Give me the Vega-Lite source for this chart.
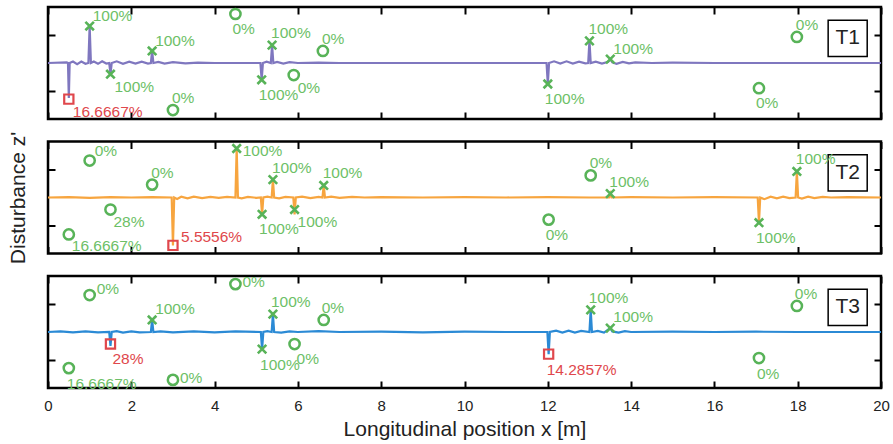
{
  "$schema": "https://vega.github.io/schema/vega-lite/v6.json",
  "padding": {"left": 5, "top": 2, "right": 10, "bottom": 5},
  "background": "white",
  "bounds": "flush",
  "spacing": 22.5,
  "config": {
    "view": {"stroke": "black", "strokeWidth": 2.5},
    "axis": {"domain": false, "grid": false, "tickColor": "black", "tickWidth": 2, "tickSize": -7, "labelFontSize": 15, "labelFont": "Liberation Sans", "labelColor": "#222", "labelFlush": false, "titleFont": "Liberation Sans", "titleFontSize": 21, "titleFontWeight": "normal", "titleColor": "#222"}
  },
  "datasets": {
    "lines": [
      {"p":1,"x":0,"y":0},{"p":1,"x":0.45,"y":0.02},{"p":1,"x":0.48,"y":0},{"p":1,"x":0.5,"y":-1.25},{"p":1,"x":0.52,"y":0},{"p":1,"x":0.6,"y":0.05},{"p":1,"x":0.7,"y":-0.04},{"p":1,"x":0.8,"y":0.05},{"p":1,"x":0.9,"y":-0.03},{"p":1,"x":0.97,"y":0},{"p":1,"x":1.0,"y":1.32},{"p":1,"x":1.03,"y":0},{"p":1,"x":1.1,"y":0.05},{"p":1,"x":1.2,"y":-0.03},{"p":1,"x":1.3,"y":0.06},{"p":1,"x":1.4,"y":-0.02},{"p":1,"x":1.47,"y":0},{"p":1,"x":1.5,"y":-0.4},{"p":1,"x":1.53,"y":0},{"p":1,"x":1.65,"y":0.06},{"p":1,"x":1.8,"y":-0.03},{"p":1,"x":1.95,"y":0.05},{"p":1,"x":2.1,"y":-0.02},{"p":1,"x":2.25,"y":0.05},{"p":1,"x":2.4,"y":-0.02},{"p":1,"x":2.47,"y":0},{"p":1,"x":2.5,"y":0.43},{"p":1,"x":2.53,"y":0},{"p":1,"x":2.65,"y":0.04},{"p":1,"x":2.8,"y":-0.02},{"p":1,"x":3.0,"y":0.03},{"p":1,"x":3.3,"y":-0.01},{"p":1,"x":3.6,"y":0.01},{"p":1,"x":4.0,"y":0},{"p":1,"x":5.1,"y":0},{"p":1,"x":5.13,"y":-0.6},{"p":1,"x":5.16,"y":0},{"p":1,"x":5.25,"y":0.05},{"p":1,"x":5.35,"y":0},{"p":1,"x":5.38,"y":0.64},{"p":1,"x":5.41,"y":0},{"p":1,"x":5.5,"y":0.04},{"p":1,"x":5.65,"y":-0.02},{"p":1,"x":5.8,"y":0.03},{"p":1,"x":6.0,"y":0},{"p":1,"x":6.5,"y":0.01},{"p":1,"x":7.0,"y":0},{"p":1,"x":11.97,"y":0},{"p":1,"x":12.0,"y":-0.75},{"p":1,"x":12.03,"y":0},{"p":1,"x":12.15,"y":0.06},{"p":1,"x":12.3,"y":-0.02},{"p":1,"x":12.45,"y":0.06},{"p":1,"x":12.6,"y":-0.02},{"p":1,"x":12.75,"y":0.05},{"p":1,"x":12.9,"y":-0.01},{"p":1,"x":12.97,"y":0},{"p":1,"x":13.0,"y":0.79},{"p":1,"x":13.03,"y":0},{"p":1,"x":13.15,"y":0.05},{"p":1,"x":13.3,"y":-0.02},{"p":1,"x":13.45,"y":0.04},{"p":1,"x":13.5,"y":0.14},{"p":1,"x":13.55,"y":0.02},{"p":1,"x":13.65,"y":-0.03},{"p":1,"x":13.8,"y":0.04},{"p":1,"x":13.95,"y":-0.01},{"p":1,"x":14.1,"y":0.02},{"p":1,"x":14.5,"y":0},{"p":1,"x":15.0,"y":0.01},{"p":1,"x":16.0,"y":0},{"p":1,"x":20.0,"y":0},
      {"p":2,"x":0,"y":0},{"p":2,"x":0.5,"y":0.01},{"p":2,"x":1.0,"y":-0.01},{"p":2,"x":1.5,"y":0.01},{"p":2,"x":2.0,"y":0},{"p":2,"x":2.5,"y":0.01},{"p":2,"x":2.97,"y":0},{"p":2,"x":3.0,"y":-1.71},{"p":2,"x":3.03,"y":0},{"p":2,"x":3.1,"y":-0.05},{"p":2,"x":3.2,"y":0.03},{"p":2,"x":3.35,"y":-0.03},{"p":2,"x":3.5,"y":0.03},{"p":2,"x":3.7,"y":-0.02},{"p":2,"x":3.9,"y":0.02},{"p":2,"x":4.1,"y":-0.01},{"p":2,"x":4.3,"y":0.02},{"p":2,"x":4.5,"y":0},{"p":2,"x":4.53,"y":1.75},{"p":2,"x":4.56,"y":0},{"p":2,"x":4.65,"y":-0.03},{"p":2,"x":4.8,"y":0.02},{"p":2,"x":5.0,"y":-0.01},{"p":2,"x":5.11,"y":0},{"p":2,"x":5.14,"y":-0.6},{"p":2,"x":5.17,"y":0},{"p":2,"x":5.27,"y":0.03},{"p":2,"x":5.37,"y":0},{"p":2,"x":5.4,"y":0.64},{"p":2,"x":5.43,"y":0},{"p":2,"x":5.55,"y":-0.03},{"p":2,"x":5.7,"y":0.02},{"p":2,"x":5.89,"y":0},{"p":2,"x":5.92,"y":-0.6},{"p":2,"x":5.95,"y":0},{"p":2,"x":6.1,"y":0.03},{"p":2,"x":6.3,"y":-0.02},{"p":2,"x":6.5,"y":0.02},{"p":2,"x":6.59,"y":0},{"p":2,"x":6.62,"y":0.43},{"p":2,"x":6.65,"y":0},{"p":2,"x":6.8,"y":0.03},{"p":2,"x":7.0,"y":-0.01},{"p":2,"x":7.3,"y":0.02},{"p":2,"x":7.6,"y":0},{"p":2,"x":8,"y":0.01},{"p":2,"x":9,"y":0},{"p":2,"x":10,"y":0.01},{"p":2,"x":11,"y":0},{"p":2,"x":12,"y":0.01},{"p":2,"x":13,"y":0},{"p":2,"x":13.47,"y":0},{"p":2,"x":13.5,"y":0.14},{"p":2,"x":13.53,"y":0},{"p":2,"x":14,"y":0.01},{"p":2,"x":15,"y":0},{"p":2,"x":16,"y":0.01},{"p":2,"x":17.04,"y":0},{"p":2,"x":17.07,"y":-0.9},{"p":2,"x":17.1,"y":0},{"p":2,"x":17.2,"y":-0.06},{"p":2,"x":17.35,"y":0.03},{"p":2,"x":17.5,"y":-0.03},{"p":2,"x":17.65,"y":0.03},{"p":2,"x":17.8,"y":-0.02},{"p":2,"x":17.95,"y":0},{"p":2,"x":17.98,"y":0.93},{"p":2,"x":18.01,"y":0},{"p":2,"x":18.1,"y":-0.04},{"p":2,"x":18.25,"y":0.03},{"p":2,"x":18.4,"y":-0.02},{"p":2,"x":18.6,"y":0.02},{"p":2,"x":18.8,"y":0},{"p":2,"x":19.2,"y":0.01},{"p":2,"x":20,"y":0},
      {"p":3,"x":0,"y":0},{"p":3,"x":0.3,"y":0.02},{"p":3,"x":0.6,"y":-0.01},{"p":3,"x":0.9,"y":0.02},{"p":3,"x":1.2,"y":-0.01},{"p":3,"x":1.47,"y":0},{"p":3,"x":1.5,"y":-0.5},{"p":3,"x":1.53,"y":0},{"p":3,"x":1.65,"y":0.03},{"p":3,"x":1.8,"y":-0.02},{"p":3,"x":2.0,"y":0.02},{"p":3,"x":2.2,"y":-0.01},{"p":3,"x":2.47,"y":0},{"p":3,"x":2.5,"y":0.43},{"p":3,"x":2.53,"y":0},{"p":3,"x":2.7,"y":0.02},{"p":3,"x":3.0,"y":-0.01},{"p":3,"x":3.5,"y":0.02},{"p":3,"x":4.0,"y":-0.01},{"p":3,"x":4.5,"y":0.02},{"p":3,"x":5.11,"y":0},{"p":3,"x":5.14,"y":-0.61},{"p":3,"x":5.17,"y":0},{"p":3,"x":5.27,"y":0.03},{"p":3,"x":5.37,"y":0},{"p":3,"x":5.4,"y":0.64},{"p":3,"x":5.43,"y":0},{"p":3,"x":5.6,"y":-0.02},{"p":3,"x":5.8,"y":0.02},{"p":3,"x":6.0,"y":0},{"p":3,"x":6.5,"y":0.03},{"p":3,"x":7,"y":0},{"p":3,"x":8,"y":0.01},{"p":3,"x":9,"y":-0.01},{"p":3,"x":10,"y":0.01},{"p":3,"x":11,"y":0},{"p":3,"x":11.99,"y":0},{"p":3,"x":12.02,"y":-0.79},{"p":3,"x":12.05,"y":0},{"p":3,"x":12.2,"y":0.05},{"p":3,"x":12.35,"y":-0.02},{"p":3,"x":12.5,"y":0.05},{"p":3,"x":12.65,"y":-0.02},{"p":3,"x":12.8,"y":0.04},{"p":3,"x":13.0,"y":0},{"p":3,"x":13.03,"y":0.79},{"p":3,"x":13.06,"y":0},{"p":3,"x":13.2,"y":0.04},{"p":3,"x":13.35,"y":-0.02},{"p":3,"x":13.5,"y":0.14},{"p":3,"x":13.55,"y":0.02},{"p":3,"x":13.7,"y":-0.02},{"p":3,"x":13.85,"y":0.03},{"p":3,"x":14.0,"y":0},{"p":3,"x":15,"y":0.01},{"p":3,"x":16,"y":0},{"p":3,"x":17,"y":0.01},{"p":3,"x":18,"y":0},{"p":3,"x":20,"y":0}
    ],
    "marks": [
      {"p":1,"x":0.5,"y":-1.29,"k":"s","t":"16.6667%","pos":"br"},
      {"p":1,"x":1.0,"y":1.32,"k":"x","t":"100%","pos":"ar"},
      {"p":1,"x":1.5,"y":-0.4,"k":"x","t":"100%","pos":"br"},
      {"p":1,"x":2.5,"y":0.43,"k":"x","t":"100%","pos":"ar"},
      {"p":1,"x":4.5,"y":1.75,"k":"o","t":"0%","pos":"b"},
      {"p":1,"x":3.0,"y":-1.68,"k":"o","t":"0%","pos":"a"},
      {"p":1,"x":5.13,"y":-0.6,"k":"x","t":"100%","pos":"b"},
      {"p":1,"x":5.38,"y":0.64,"k":"x","t":"100%","pos":"a"},
      {"p":1,"x":5.9,"y":-0.43,"k":"o","t":"0%","pos":"br"},
      {"p":1,"x":6.6,"y":0.43,"k":"o","t":"0%","pos":"a"},
      {"p":1,"x":12.0,"y":-0.75,"k":"x","t":"100%","pos":"b"},
      {"p":1,"x":13.0,"y":0.79,"k":"x","t":"100%","pos":"a"},
      {"p":1,"x":13.5,"y":0.14,"k":"x","t":"100%","pos":"ar"},
      {"p":1,"x":17.98,"y":0.93,"k":"o","t":"0%","pos":"a"},
      {"p":1,"x":17.07,"y":-0.9,"k":"o","t":"0%","pos":"b"},
      {"p":2,"x":1.0,"y":1.32,"k":"o","t":"0%","pos":"ar"},
      {"p":2,"x":2.5,"y":0.46,"k":"o","t":"0%","pos":"a"},
      {"p":2,"x":1.5,"y":-0.43,"k":"o","t":"28%","pos":"br"},
      {"p":2,"x":0.5,"y":-1.32,"k":"o","t":"16.6667%","pos":"br"},
      {"p":2,"x":3.0,"y":-1.71,"k":"s","t":"5.5556%","pos":"ru"},
      {"p":2,"x":4.53,"y":1.75,"k":"x","t":"100%","pos":"r"},
      {"p":2,"x":5.14,"y":-0.6,"k":"x","t":"100%","pos":"b"},
      {"p":2,"x":5.4,"y":0.64,"k":"x","t":"100%","pos":"a"},
      {"p":2,"x":5.92,"y":-0.43,"k":"x","t":"100%","pos":"br"},
      {"p":2,"x":6.62,"y":0.43,"k":"x","t":"100%","pos":"a"},
      {"p":2,"x":13.03,"y":0.79,"k":"o","t":"0%","pos":"a"},
      {"p":2,"x":13.5,"y":0.14,"k":"x","t":"100%","pos":"a"},
      {"p":2,"x":12.02,"y":-0.79,"k":"o","t":"0%","pos":"b"},
      {"p":2,"x":17.07,"y":-0.9,"k":"x","t":"100%","pos":"b"},
      {"p":2,"x":17.98,"y":0.93,"k":"x","t":"100%","pos":"a"},
      {"p":3,"x":1.0,"y":1.32,"k":"o","t":"0%","pos":"ru"},
      {"p":3,"x":4.5,"y":1.71,"k":"o","t":"0%","pos":"r"},
      {"p":3,"x":2.5,"y":0.43,"k":"x","t":"100%","pos":"ar"},
      {"p":3,"x":1.5,"y":-0.43,"k":"s","t":"28%","pos":"br"},
      {"p":3,"x":0.5,"y":-1.29,"k":"o","t":"16.6667%","pos":"b"},
      {"p":3,"x":3.0,"y":-1.71,"k":"o","t":"0%","pos":"r"},
      {"p":3,"x":5.14,"y":-0.61,"k":"x","t":"100%","pos":"b"},
      {"p":3,"x":5.4,"y":0.64,"k":"x","t":"100%","pos":"a"},
      {"p":3,"x":5.92,"y":-0.43,"k":"o","t":"0%","pos":"br"},
      {"p":3,"x":6.62,"y":0.43,"k":"o","t":"0%","pos":"a"},
      {"p":3,"x":12.02,"y":-0.79,"k":"s","t":"14.2857%","pos":"b"},
      {"p":3,"x":13.03,"y":0.79,"k":"x","t":"100%","pos":"a"},
      {"p":3,"x":13.5,"y":0.14,"k":"x","t":"100%","pos":"ar"},
      {"p":3,"x":17.98,"y":0.93,"k":"o","t":"0%","pos":"a"},
      {"p":3,"x":17.07,"y":-0.93,"k":"o","t":"0%","pos":"b"}
    ],
    "tags": [
      {"p":1,"x":19.2,"y":0.88,"t":"T1"},
      {"p":2,"x":19.2,"y":0.88,"t":"T2"},
      {"p":3,"x":19.2,"y":0.88,"t":"T3"}
    ]
  },
  "vconcat": [
    {
      "width": 833, "height": 112,
      "layer": [
        {
          "encoding": {
            "x": {"field":"x","type":"quantitative","scale":{"domain":[0,20],"nice":false,"zero":false},"axis":{"orient":"bottom","values":[0,2,4,6,8,10,12,14,16,18,20],"labels":false,"title":null}},
            "y": {"field":"y","type":"quantitative","scale":{"domain":[-2,2],"nice":false},"axis":{"orient":"left","values":[-1,1],"labels":false,"title":null}}
          },
          "layer": [
            {"data":{"name":"lines"},"transform":[{"filter":"datum.p==1"}],"mark":{"type":"line","color":"#7f77bf","strokeWidth":2.2}},
            {"data":{"name":"tags"},"transform":[{"filter":"datum.p==1"}],"mark":{"type":"point","shape":"M-1.083,-1H1.083V1H-1.083Z","size":1300,"filled":true,"fill":"white","stroke":"black","strokeWidth":1.5,"opacity":1}},
            {"data":{"name":"tags"},"transform":[{"filter":"datum.p==1"}],"mark":{"type":"text","fontSize":21,"font":"Liberation Sans","color":"#222"},"encoding":{"text":{"field":"t"}}},
            {"data":{"name":"marks"},"transform":[{"filter":"datum.p==1 && datum.k=='x'"}],"mark":{"type":"point","shape":"M-1,-1L1,1M-1,1L1,-1","size":72,"strokeWidth":2.6,"color":"#58b358","opacity":1}},
            {"data":{"name":"marks"},"transform":[{"filter":"datum.p==1 && datum.k=='o'"}],"mark":{"type":"point","shape":"circle","size":105,"strokeWidth":2.5,"color":"#58b358","filled":false,"opacity":1}},
            {"data":{"name":"marks"},"transform":[{"filter":"datum.p==1 && datum.k=='s'"}],"mark":{"type":"point","shape":"square","size":85,"strokeWidth":2.2,"color":"#e0474c","filled":false,"opacity":1}},
            {"data":{"name":"marks"},"transform":[{"filter":"datum.p==1 && datum.pos=='a'"}],"mark":{"type":"text","align":"left","baseline":"middle","dx":-1,"dy":-12,"fontSize":15.5,"font":"Liberation Sans"},"encoding":{"text":{"field":"t"},"color":{"field":"k","type":"nominal","scale":{"domain":["x","o","s"],"range":["#6dbf67","#6dbf67","#e0474c"]},"legend":null}}},
            {"data":{"name":"marks"},"transform":[{"filter":"datum.p==1 && datum.pos=='b'"}],"mark":{"type":"text","align":"left","baseline":"middle","dx":-3,"dy":15,"fontSize":15.5,"font":"Liberation Sans"},"encoding":{"text":{"field":"t"},"color":{"field":"k","type":"nominal","scale":{"domain":["x","o","s"],"range":["#6dbf67","#6dbf67","#e0474c"]},"legend":null}}},
            {"data":{"name":"marks"},"transform":[{"filter":"datum.p==1 && datum.pos=='ar'"}],"mark":{"type":"text","align":"left","baseline":"middle","dx":3,"dy":-10,"fontSize":15.5,"font":"Liberation Sans"},"encoding":{"text":{"field":"t"},"color":{"field":"k","type":"nominal","scale":{"domain":["x","o","s"],"range":["#6dbf67","#6dbf67","#e0474c"]},"legend":null}}},
            {"data":{"name":"marks"},"transform":[{"filter":"datum.p==1 && datum.pos=='br'"}],"mark":{"type":"text","align":"left","baseline":"middle","dx":4,"dy":13,"fontSize":15.5,"font":"Liberation Sans"},"encoding":{"text":{"field":"t"},"color":{"field":"k","type":"nominal","scale":{"domain":["x","o","s"],"range":["#6dbf67","#6dbf67","#e0474c"]},"legend":null}}}
          ]
        },
        {"data":{"name":"tags"},"transform":[{"filter":"datum.p==1"}],"mark":{"type":"point","opacity":0},
         "encoding":{
           "x":{"field":"x","type":"quantitative","scale":{"domain":[0,20],"nice":false,"zero":false},"axis":{"orient":"top","values":[0,2,4,6,8,10,12,14,16,18,20],"labels":false,"title":null}},
           "y":{"field":"y","type":"quantitative","scale":{"domain":[-2,2],"nice":false},"axis":{"orient":"right","values":[-1,1],"labels":false,"title":null}}}}
      ],
      "resolve": {"axis": {"x": "independent", "y": "independent"}}
    },
    {
      "width": 833, "height": 112,
      "layer": [
        {
          "encoding": {
            "x": {"field":"x","type":"quantitative","scale":{"domain":[0,20],"nice":false,"zero":false},"axis":{"orient":"bottom","values":[0,2,4,6,8,10,12,14,16,18,20],"labels":false,"title":null}},
            "y": {"field":"y","type":"quantitative","scale":{"domain":[-2,2],"nice":false},"axis":{"orient":"left","values":[-1,1],"labels":false,"title":"Disturbance z'","titlePadding":19}}
          },
          "layer": [
            {"data":{"name":"lines"},"transform":[{"filter":"datum.p==2"}],"mark":{"type":"line","color":"#f7a53f","strokeWidth":2.2}},
            {"data":{"name":"tags"},"transform":[{"filter":"datum.p==2"}],"mark":{"type":"point","shape":"M-1.083,-1H1.083V1H-1.083Z","size":1300,"filled":true,"fill":"white","stroke":"black","strokeWidth":1.5,"opacity":1}},
            {"data":{"name":"tags"},"transform":[{"filter":"datum.p==2"}],"mark":{"type":"text","fontSize":21,"font":"Liberation Sans","color":"#222"},"encoding":{"text":{"field":"t"}}},
            {"data":{"name":"marks"},"transform":[{"filter":"datum.p==2 && datum.k=='x'"}],"mark":{"type":"point","shape":"M-1,-1L1,1M-1,1L1,-1","size":72,"strokeWidth":2.6,"color":"#58b358","opacity":1}},
            {"data":{"name":"marks"},"transform":[{"filter":"datum.p==2 && datum.k=='o'"}],"mark":{"type":"point","shape":"circle","size":105,"strokeWidth":2.5,"color":"#58b358","filled":false,"opacity":1}},
            {"data":{"name":"marks"},"transform":[{"filter":"datum.p==2 && datum.k=='s'"}],"mark":{"type":"point","shape":"square","size":85,"strokeWidth":2.2,"color":"#e0474c","filled":false,"opacity":1}},
            {"data":{"name":"marks"},"transform":[{"filter":"datum.p==2 && datum.pos=='a'"}],"mark":{"type":"text","align":"left","baseline":"middle","dx":-1,"dy":-12,"fontSize":15.5,"font":"Liberation Sans"},"encoding":{"text":{"field":"t"},"color":{"field":"k","type":"nominal","scale":{"domain":["x","o","s"],"range":["#6dbf67","#6dbf67","#e0474c"]},"legend":null}}},
            {"data":{"name":"marks"},"transform":[{"filter":"datum.p==2 && datum.pos=='b'"}],"mark":{"type":"text","align":"left","baseline":"middle","dx":-3,"dy":15,"fontSize":15.5,"font":"Liberation Sans"},"encoding":{"text":{"field":"t"},"color":{"field":"k","type":"nominal","scale":{"domain":["x","o","s"],"range":["#6dbf67","#6dbf67","#e0474c"]},"legend":null}}},
            {"data":{"name":"marks"},"transform":[{"filter":"datum.p==2 && datum.pos=='ar'"}],"mark":{"type":"text","align":"left","baseline":"middle","dx":5,"dy":-10,"fontSize":15.5,"font":"Liberation Sans"},"encoding":{"text":{"field":"t"},"color":{"field":"k","type":"nominal","scale":{"domain":["x","o","s"],"range":["#6dbf67","#6dbf67","#e0474c"]},"legend":null}}},
            {"data":{"name":"marks"},"transform":[{"filter":"datum.p==2 && datum.pos=='br'"}],"mark":{"type":"text","align":"left","baseline":"middle","dx":3,"dy":12,"fontSize":15.5,"font":"Liberation Sans"},"encoding":{"text":{"field":"t"},"color":{"field":"k","type":"nominal","scale":{"domain":["x","o","s"],"range":["#6dbf67","#6dbf67","#e0474c"]},"legend":null}}},
            {"data":{"name":"marks"},"transform":[{"filter":"datum.p==2 && datum.pos=='r'"}],"mark":{"type":"text","align":"left","baseline":"middle","dx":6,"dy":2,"fontSize":15.5,"font":"Liberation Sans"},"encoding":{"text":{"field":"t"},"color":{"field":"k","type":"nominal","scale":{"domain":["x","o","s"],"range":["#6dbf67","#6dbf67","#e0474c"]},"legend":null}}},
            {"data":{"name":"marks"},"transform":[{"filter":"datum.p==2 && datum.pos=='ru'"}],"mark":{"type":"text","align":"left","baseline":"middle","dx":8,"dy":-8,"fontSize":15.5,"font":"Liberation Sans"},"encoding":{"text":{"field":"t"},"color":{"field":"k","type":"nominal","scale":{"domain":["x","o","s"],"range":["#6dbf67","#6dbf67","#e0474c"]},"legend":null}}}
          ]
        },
        {"data":{"name":"tags"},"transform":[{"filter":"datum.p==2"}],"mark":{"type":"point","opacity":0},
         "encoding":{
           "x":{"field":"x","type":"quantitative","scale":{"domain":[0,20],"nice":false,"zero":false},"axis":{"orient":"top","values":[0,2,4,6,8,10,12,14,16,18,20],"labels":false,"title":null}},
           "y":{"field":"y","type":"quantitative","scale":{"domain":[-2,2],"nice":false},"axis":{"orient":"right","values":[-1,1],"labels":false,"title":null}}}}
      ],
      "resolve": {"axis": {"x": "independent", "y": "independent"}}
    },
    {
      "width": 833, "height": 112,
      "layer": [
        {
          "encoding": {
            "x": {"field":"x","type":"quantitative","scale":{"domain":[0,20],"nice":false,"zero":false},"axis":{"orient":"bottom","values":[0,2,4,6,8,10,12,14,16,18,20],"labelPadding":17,"title":"Longitudinal position x [m]","titlePadding":5}},
            "y": {"field":"y","type":"quantitative","scale":{"domain":[-2,2],"nice":false},"axis":{"orient":"left","values":[-1,1],"labels":false,"title":null}}
          },
          "layer": [
            {"data":{"name":"lines"},"transform":[{"filter":"datum.p==3"}],"mark":{"type":"line","color":"#2b8ad5","strokeWidth":2.2}},
            {"data":{"name":"tags"},"transform":[{"filter":"datum.p==3"}],"mark":{"type":"point","shape":"M-1.083,-1H1.083V1H-1.083Z","size":1300,"filled":true,"fill":"white","stroke":"black","strokeWidth":1.5,"opacity":1}},
            {"data":{"name":"tags"},"transform":[{"filter":"datum.p==3"}],"mark":{"type":"text","fontSize":21,"font":"Liberation Sans","color":"#222"},"encoding":{"text":{"field":"t"}}},
            {"data":{"name":"marks"},"transform":[{"filter":"datum.p==3 && datum.k=='x'"}],"mark":{"type":"point","shape":"M-1,-1L1,1M-1,1L1,-1","size":72,"strokeWidth":2.6,"color":"#58b358","opacity":1}},
            {"data":{"name":"marks"},"transform":[{"filter":"datum.p==3 && datum.k=='o'"}],"mark":{"type":"point","shape":"circle","size":105,"strokeWidth":2.5,"color":"#58b358","filled":false,"opacity":1}},
            {"data":{"name":"marks"},"transform":[{"filter":"datum.p==3 && datum.k=='s'"}],"mark":{"type":"point","shape":"square","size":85,"strokeWidth":2.2,"color":"#e0474c","filled":false,"opacity":1}},
            {"data":{"name":"marks"},"transform":[{"filter":"datum.p==3 && datum.pos=='a'"}],"mark":{"type":"text","align":"left","baseline":"middle","dx":-2,"dy":-12,"fontSize":15.5,"font":"Liberation Sans"},"encoding":{"text":{"field":"t"},"color":{"field":"k","type":"nominal","scale":{"domain":["x","o","s"],"range":["#6dbf67","#6dbf67","#e0474c"]},"legend":null}}},
            {"data":{"name":"marks"},"transform":[{"filter":"datum.p==3 && datum.pos=='b'"}],"mark":{"type":"text","align":"left","baseline":"middle","dx":-2,"dy":16,"fontSize":15.5,"font":"Liberation Sans"},"encoding":{"text":{"field":"t"},"color":{"field":"k","type":"nominal","scale":{"domain":["x","o","s"],"range":["#6dbf67","#6dbf67","#e0474c"]},"legend":null}}},
            {"data":{"name":"marks"},"transform":[{"filter":"datum.p==3 && datum.pos=='ar'"}],"mark":{"type":"text","align":"left","baseline":"middle","dx":3,"dy":-11,"fontSize":15.5,"font":"Liberation Sans"},"encoding":{"text":{"field":"t"},"color":{"field":"k","type":"nominal","scale":{"domain":["x","o","s"],"range":["#6dbf67","#6dbf67","#e0474c"]},"legend":null}}},
            {"data":{"name":"marks"},"transform":[{"filter":"datum.p==3 && datum.pos=='br'"}],"mark":{"type":"text","align":"left","baseline":"middle","dx":2,"dy":15,"fontSize":15.5,"font":"Liberation Sans"},"encoding":{"text":{"field":"t"},"color":{"field":"k","type":"nominal","scale":{"domain":["x","o","s"],"range":["#6dbf67","#6dbf67","#e0474c"]},"legend":null}}},
            {"data":{"name":"marks"},"transform":[{"filter":"datum.p==3 && datum.pos=='r'"}],"mark":{"type":"text","align":"left","baseline":"middle","dx":7,"dy":-2,"fontSize":15.5,"font":"Liberation Sans"},"encoding":{"text":{"field":"t"},"color":{"field":"k","type":"nominal","scale":{"domain":["x","o","s"],"range":["#6dbf67","#6dbf67","#e0474c"]},"legend":null}}},
            {"data":{"name":"marks"},"transform":[{"filter":"datum.p==3 && datum.pos=='ru'"}],"mark":{"type":"text","align":"left","baseline":"middle","dx":7,"dy":-6,"fontSize":15.5,"font":"Liberation Sans"},"encoding":{"text":{"field":"t"},"color":{"field":"k","type":"nominal","scale":{"domain":["x","o","s"],"range":["#6dbf67","#6dbf67","#e0474c"]},"legend":null}}}
          ]
        },
        {"data":{"name":"tags"},"transform":[{"filter":"datum.p==3"}],"mark":{"type":"point","opacity":0},
         "encoding":{
           "x":{"field":"x","type":"quantitative","scale":{"domain":[0,20],"nice":false,"zero":false},"axis":{"orient":"top","values":[0,2,4,6,8,10,12,14,16,18,20],"labels":false,"title":null}},
           "y":{"field":"y","type":"quantitative","scale":{"domain":[-2,2],"nice":false},"axis":{"orient":"right","values":[-1,1],"labels":false,"title":null}}}}
      ],
      "resolve": {"axis": {"x": "independent", "y": "independent"}}
    }
  ]
}
